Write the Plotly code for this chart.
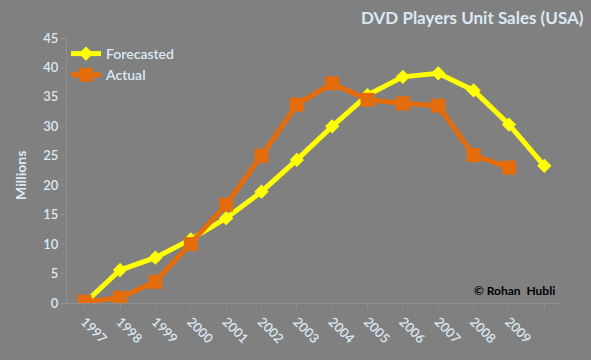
import plotly.graph_objects as go

categories = ["1997", "1998", "1999", "2000", "2001", "2002", "2003", "2004",
              "2005", "2006", "2007", "2008", "2009", " "]
tick_labels = ["1997", "1998", "1999", "2000", "2001", "2002", "2003", "2004",
               "2005", "2006", "2007", "2008", "2009", ""]
forecasted = [0.0, 5.6, 7.7, 10.8, 14.4, 18.9, 24.3, 30.0, 35.3, 38.4, 39.0, 36.1, 30.3, 23.3]
actual = [0.2, 0.9, 3.6, 10.0, 16.7, 25.0, 33.7, 37.3, 34.5, 33.9, 33.5, 25.1, 23.0]

bg = "#808080"
txt = "#dbe9f4"
axis_col = "#8f8f8f"
font_fam = "Lato, Open Sans, sans-serif"

fig = go.Figure()
fig.add_trace(go.Scatter(
    x=categories, y=forecasted, name="Forecasted", mode="lines+markers",
    line=dict(color="#ffff00", width=5),
    marker=dict(symbol="diamond", size=11, color="#ffff00"),
))
fig.add_trace(go.Scatter(
    x=categories[:len(actual)], y=actual, name="Actual", mode="lines+markers",
    line=dict(color="#e46c0a", width=5),
    marker=dict(symbol="square", size=14, color="#e46c0a"),
))

fig.update_layout(
    width=591, height=360,
    paper_bgcolor=bg, plot_bgcolor=bg,
    margin=dict(l=67, r=29, t=38, b=57),
    font=dict(family=font_fam, color=txt, size=13),
    showlegend=True,
    legend=dict(x=-0.002, y=1.0, xanchor="left", yanchor="top",
                bgcolor="rgba(0,0,0,0)", font=dict(size=14, color=txt, weight=600),
                itemwidth=30, tracegroupgap=4),
    xaxis=dict(
        type="category", tickmode="array", tickvals=categories, ticktext=tick_labels,
        tickangle=45, showgrid=False, showline=True, linecolor=axis_col, linewidth=1,
        ticks="outside", ticklen=5, tickcolor=axis_col, automargin=False,
        tickfont=dict(size=13, color=txt, weight=600), zeroline=False,
        range=[-0.5, 13.5],
    ),
    yaxis=dict(
        range=[0, 45], dtick=5, showgrid=False, showline=True, linecolor=axis_col,
        linewidth=1, ticks="outside", ticklen=5, tickcolor=axis_col, zeroline=False,
        automargin=False, tickfont=dict(size=13, color=txt, weight=600),
    ),
    annotations=[
        dict(text="<b>DVD Players Unit Sales (USA)</b>", x=1.0485, y=1.079,
             xref="paper", yref="paper", xanchor="right", yanchor="middle",
             showarrow=False, font=dict(size=17, color=txt, family=font_fam)),
        dict(text="<b>Millions</b>", x=-0.095, y=0.483, xref="paper", yref="paper",
             xanchor="center", yanchor="middle", textangle=-90, showarrow=False,
             font=dict(size=14, color=txt, family=font_fam)),
        dict(text="<b>© Rohan  Hubli</b>", x=0.99, y=0.049, xref="paper", yref="paper",
             xanchor="right", yanchor="middle", showarrow=False,
             font=dict(size=12, color="#000000", family=font_fam)),
    ],
)

fig.write_html("out.html", config={"displayModeBar": False},
               post_script="document.body.style.margin='0';")
